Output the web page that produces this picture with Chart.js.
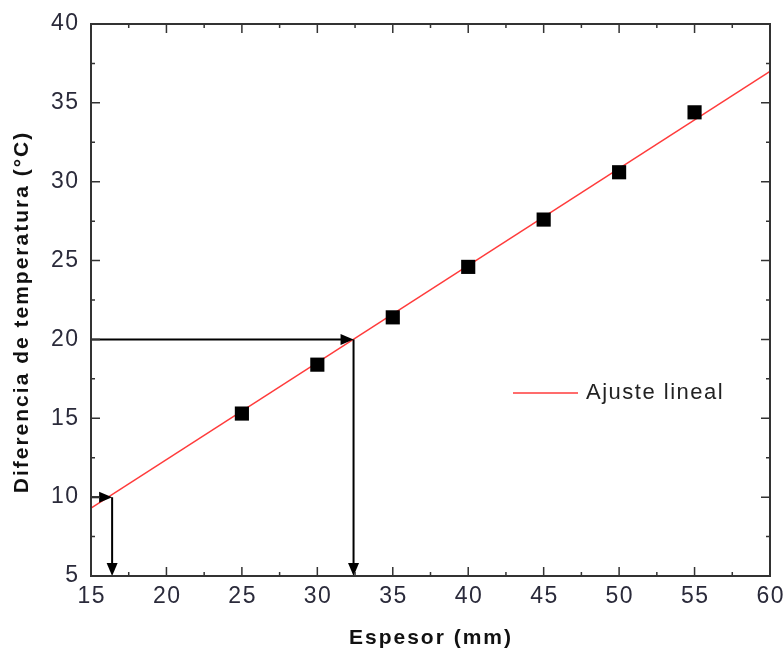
<!DOCTYPE html>
<html>
<head>
<meta charset="utf-8">
<script src="https://cdn.jsdelivr.net/npm/chart.js@4"></script>
<style>
html,body{margin:0;padding:0;background:#fff;}
#wrap{width:784px;height:657px;}
</style>
</head>
<body>
<div id="wrap"><canvas id="c" width="784" height="657"></canvas></div>
<script>
// ---- data ----
const espesor = [25, 30, 35, 40, 45, 50, 55];
const diferencia = [15.3, 18.4, 21.4, 24.6, 27.6, 30.6, 34.4];
const fitX = [15, 60];
const fitY = [9.3, 37.0];
const arrowX = [16.4, 32.4];
const arrowY = [10, 20];
const xTicks = [15, 20, 25, 30, 35, 40, 45, 50, 55, 60];
const yTicks = [5, 10, 15, 20, 25, 30, 35, 40];
const xTitle = 'Espesor (mm)';
const yTitle = 'Diferencia de temperatura (°C)';
const legendLabel = 'Ajuste lineal';

const FRAME = '#333333';
const TXT = '#2a2a3a';
const FONT = '"Liberation Sans", Arial, sans-serif';

function spacedText(ctx, text, cx, cy, spacing, align) {
  try { ctx.letterSpacing = spacing + 'px'; } catch (e) {}
  const w = ctx.measureText(text).width - spacing;
  let x0;
  if (align === 'center') x0 = cx - w / 2;
  else if (align === 'right') x0 = cx - w;
  else x0 = cx;
  ctx.textAlign = 'left';
  ctx.textBaseline = 'middle';
  ctx.fillText(text, x0, cy);
  try { ctx.letterSpacing = '0px'; } catch (e) {}
}

const framePlugin = {
  id: 'frame',
  afterDatasetsDraw(chart) {
    const {ctx, chartArea: a, scales: {x, y}} = chart;
    ctx.save();
    // arrows
    ctx.strokeStyle = '#000';
    ctx.fillStyle = '#000';
    ctx.lineWidth = 2;
    for (let i = 0; i < arrowX.length; i++) {
      const px = x.getPixelForValue(arrowX[i]);
      const py = y.getPixelForValue(arrowY[i]);
      const x0 = x.getPixelForValue(x.min);
      const yb = y.getPixelForValue(y.min);
      ctx.beginPath();
      ctx.moveTo(x0, py); ctx.lineTo(px - 8, py);
      ctx.moveTo(px, py); ctx.lineTo(px, yb - 8);
      ctx.stroke();
      ctx.beginPath();
      ctx.moveTo(px, py); ctx.lineTo(px - 13, py - 5.5); ctx.lineTo(px - 13, py + 5.5); ctx.closePath(); ctx.fill();
      ctx.beginPath();
      ctx.moveTo(px, yb); ctx.lineTo(px - 5.5, yb - 13); ctx.lineTo(px + 5.5, yb - 13); ctx.closePath(); ctx.fill();
    }
    // frame
    ctx.strokeStyle = FRAME;
    ctx.lineWidth = 2;
    ctx.strokeRect(a.left, a.top, a.right - a.left, a.bottom - a.top);
    ctx.lineWidth = 1.5;
    ctx.beginPath();
    for (let i = 0; i < xTicks.length; i++) {
      const v = xTicks[i];
      const p = x.getPixelForValue(v);
      ctx.moveTo(p, a.bottom); ctx.lineTo(p, a.bottom - 9);
      ctx.moveTo(p, a.top); ctx.lineTo(p, a.top + 9);
      if (i < xTicks.length - 1) {
        const m = x.getPixelForValue((v + xTicks[i + 1]) / 2);
        ctx.moveTo(m, a.bottom); ctx.lineTo(m, a.bottom - 4);
        ctx.moveTo(m, a.top); ctx.lineTo(m, a.top + 4);
      }
    }
    for (let i = 0; i < yTicks.length; i++) {
      const v = yTicks[i];
      const p = y.getPixelForValue(v);
      ctx.moveTo(a.left, p); ctx.lineTo(a.left + 9, p);
      ctx.moveTo(a.right, p); ctx.lineTo(a.right - 9, p);
      if (i < yTicks.length - 1) {
        const m = y.getPixelForValue((v + yTicks[i + 1]) / 2);
        ctx.moveTo(a.left, m); ctx.lineTo(a.left + 4, m);
        ctx.moveTo(a.right, m); ctx.lineTo(a.right - 4, m);
      }
    }
    ctx.stroke();
    // tick labels
    ctx.fillStyle = TXT;
    ctx.font = '23px ' + FONT;
    xTicks.forEach(v => spacedText(ctx, String(v), x.getPixelForValue(v), a.bottom + 21, 1.5, 'center'));
    yTicks.forEach(v => spacedText(ctx, String(v), a.left - 13, y.getPixelForValue(v), 1.5, 'right'));
    // legend
    ctx.strokeStyle = '#ff3b3b';
    ctx.lineWidth = 1.5;
    ctx.beginPath(); ctx.moveTo(513, 393); ctx.lineTo(578, 393); ctx.stroke();
    ctx.fillStyle = '#222';
    ctx.font = '22px ' + FONT;
    spacedText(ctx, legendLabel, 586, 393, 1.5, 'left');
    // axis titles
    ctx.fillStyle = '#111';
    ctx.font = 'bold 21px ' + FONT;
    spacedText(ctx, xTitle, 430, 638, 2, 'center');
    ctx.translate(22, 313);
    ctx.rotate(-Math.PI / 2);
    spacedText(ctx, yTitle, 0, 0, 2, 'center');
    ctx.restore();
  }
};

new Chart(document.getElementById('c'), {
  type: 'scatter',
  data: {
    datasets: [
      {
        type: 'line',
        data: fitX.map((v, i) => ({x: v, y: fitY[i]})),
        borderColor: '#ff3b3b',
        borderWidth: 1.5,
        pointRadius: 0,
        fill: false,
        order: 2
      },
      {
        data: espesor.map((v, i) => ({x: v, y: diferencia[i]})),
        pointStyle: 'rect',
        pointRadius: 10,
        backgroundColor: '#000',
        borderWidth: 0,
        order: 1
      }
    ]
  },
  options: {
    responsive: false,
    animation: false,
    layout: {padding: {left: 0, top: 24, right: 14, bottom: 0}},
    plugins: {legend: {display: false}, tooltip: {enabled: false}},
    scales: {
      x: {
        type: 'linear', min: 15, max: 60,
        afterBuildTicks: s => { s.ticks = xTicks.map(v => ({value: v})); },
        afterFit: s => { s.height = 81; s.paddingLeft = 0; s.paddingRight = 0; },
        grid: {display: false}, border: {display: false},
        ticks: {display: false}
      },
      y: {
        type: 'linear', min: 5, max: 40,
        afterBuildTicks: s => { s.ticks = yTicks.map(v => ({value: v})); },
        afterFit: s => { s.width = 91; s.paddingTop = 0; s.paddingBottom = 0; },
        grid: {display: false}, border: {display: false},
        ticks: {display: false}
      }
    }
  },
  plugins: [framePlugin]
});
</script>
</body>
</html>
